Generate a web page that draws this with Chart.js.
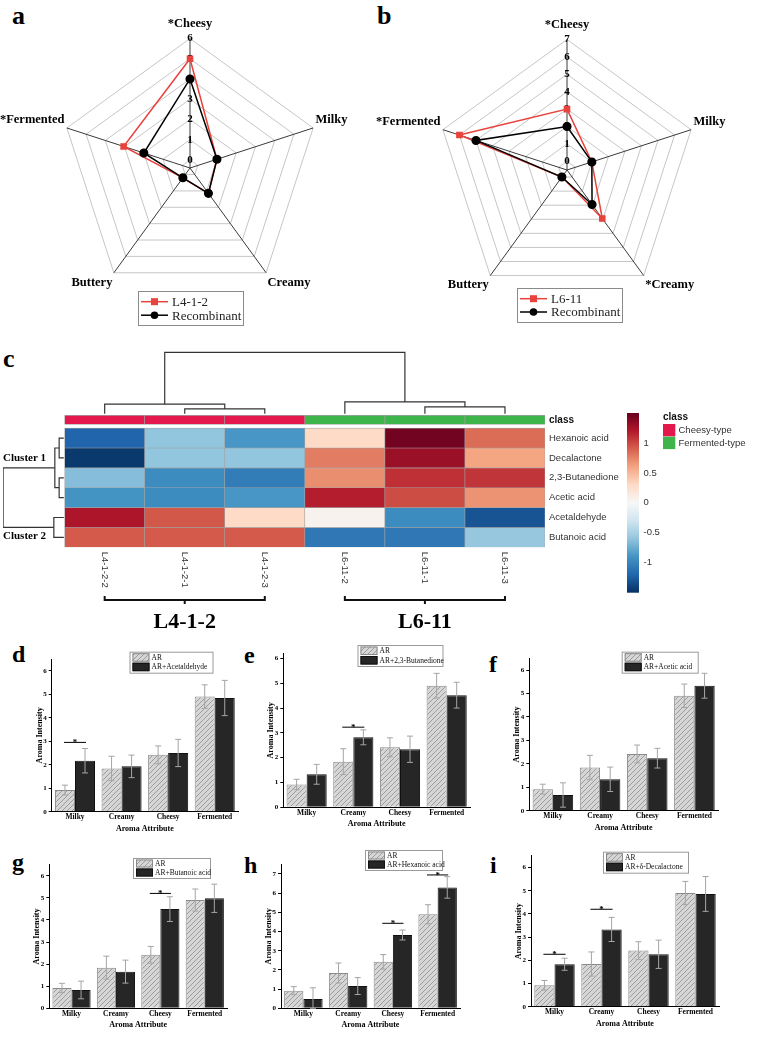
<!DOCTYPE html>
<html>
<head>
<meta charset="utf-8">
<script src="https://cdn.jsdelivr.net/npm/chart.js@4.4.1/dist/chart.umd.min.js"></script>
<style>
  body { margin: 0; background: #fff; }
  #page { position: relative; width: 757px; height: 1042px; overflow: hidden; background: #fff; }
  canvas { position: absolute; }
  .tag { position: absolute; font-family: "Liberation Serif", serif; font-weight: bold; line-height: 1; color: #000; }
</style>
</head>
<body>
<div id="page">
  <div class="tag" style="left:12px;top:3px;font-size:26px">a</div>
  <div class="tag" style="left:377px;top:3px;font-size:26px">b</div>
  <div class="tag" style="left:3px;top:346px;font-size:26px">c</div>
  <div class="tag" style="left:12px;top:642px;font-size:24px">d</div>
  <div class="tag" style="left:244px;top:643px;font-size:24px">e</div>
  <div class="tag" style="left:489px;top:652px;font-size:24px">f</div>
  <div class="tag" style="left:12px;top:850px;font-size:24px">g</div>
  <div class="tag" style="left:244px;top:853px;font-size:24px">h</div>
  <div class="tag" style="left:490px;top:853px;font-size:24px">i</div>
</div>
<script>
// ---------- radar data (a, b)
const radarAxesA = ['*Cheesy', 'Milky', 'Creamy', 'Buttery', '*Fermented'];
const l412Scores = [5, 1, 1.15, 0.2, 3.05];
const recombScoresA = [4, 1, 1.15, 0.2, 2];
const radarAxesB = ['*Cheesy', 'Milky', '*Creamy', 'Buttery', '*Fermented'];
const l611Scores = [3, 1, 2.95, 0, 6];
const recombScoresB = [2, 1, 1.95, 0, 5];

// ---------- heatmap data (c)
const heatCols = ['L4-1-2-2', 'L4-1-2-1', 'L4-1-2-3', 'L6-11-2', 'L6-11-1', 'L6-11-3'];
const heatClass = ['Cheesy-type', 'Cheesy-type', 'Cheesy-type', 'Fermented-type', 'Fermented-type', 'Fermented-type'];
const heatRows = ['Hexanoic acid', 'Decalactone', '2,3-Butanedione', 'Acetic acid', 'Acetaldehyde', 'Butanoic acid'];
const hexanoicAcid = [-1.2, -0.6, -0.88, 0.3, 1.45, 0.85];
const decalactone = [-1.45, -0.6, -0.6, 0.78, 1.3, 0.6];
const butanedione = [-0.65, -0.95, -1.05, 0.7, 1.1, 1.08];
const aceticAcid = [-0.9, -0.95, -0.88, 1.18, 0.98, 0.68];
const acetaldehyde = [1.22, 0.93, 0.3, 0.05, -0.95, -1.3];
const butanoicAcid = [0.92, 0.92, 0.92, -1.08, -1.08, -0.58];
const heatValues = [hexanoicAcid, decalactone, butanedione, aceticAcid, acetaldehyde, butanoicAcid];
// hclust style merges: negative = leaf, positive = earlier merge; third value = height
const colMerge = [[-2, -3, 0.5], [-5, -6, 0.7], [-1, 1, 0.97], [-4, 2, 1.2], [3, 4, 6.2]];
const rowMerge = [[-1, -2, 0.47], [-3, -4, 0.47], [1, 2, 0.9], [-5, -6, 1.0], [3, 4, 6.07]];
const colorTicks = [1, 0.5, 0, -0.5, -1];
const colorMin = -1.5, colorMax = 1.5;

// ---------- bar data (d - i)
const attributes = ['Milky', 'Creamy', 'Cheesy', 'Fermented'];
const arMean = [0.92, 1.84, 2.42, 4.9];
const arErr = [0.21, 0.52, 0.38, 0.5];
const acetaldehydeMean = [2.17, 1.93, 2.5, 4.84];
const acetaldehydeErr = [0.52, 0.48, 0.58, 0.75];
const acetaldehydeSig = [[0, 2.95]];
const butanedioneMean = [1.33, 2.82, 2.34, 4.52];
const butanedioneErr = [0.4, 0.3, 0.53, 0.52];
const butanedioneSig = [[1, 3.23]];
const aceticMean = [0.67, 1.34, 2.24, 5.33];
const aceticErr = [0.52, 0.52, 0.42, 0.53];
const aceticSig = [];
const butanoicMean = [0.83, 1.66, 4.49, 4.98];
const butanoicErr = [0.4, 0.52, 0.56, 0.64];
const butanoicSig = [[2, 5.2]];
const hexanoicMean = [0.49, 1.16, 3.82, 6.3];
const hexanoicErr = [0.58, 0.44, 0.26, 0.56];
const hexanoicSig = [[2, 4.43], [3, 6.95]];
const decalactoneMean = [1.83, 3.33, 2.26, 4.86];
const decalactoneErr = [0.26, 0.52, 0.61, 0.75];
const decalactoneSig = [[0, 2.26], [1, 4.2]];

Chart.defaults.font.family = '"Liberation Serif", "Times New Roman", serif';
Chart.defaults.color = '#000';
Chart.defaults.animation = false;
Chart.defaults.responsive = false;
Chart.defaults.events = [];
Chart.defaults.plugins.legend.display = false;
Chart.defaults.plugins.tooltip.enabled = false;

function makeCanvas(left, top, w, h) {
  const c = document.createElement('canvas');
  c.width = w; c.height = h;
  c.style.left = left + 'px'; c.style.top = top + 'px';
  document.getElementById('page').appendChild(c);
  return c;
}

// ---------- radar charts
const boxLegend = {
  id: 'boxLegend',
  afterDraw(chart, args, o) {
    const ctx = chart.ctx;
    ctx.save();
    ctx.strokeStyle = '#8a8a8a'; ctx.lineWidth = 1;
    ctx.strokeRect(o.x + 0.5, o.y + 0.5, o.w, o.h);
    chart.data.datasets.forEach((ds, i) => {
      const cy = o.y + o.row0 + i * o.gap;
      ctx.strokeStyle = ds.borderColor; ctx.lineWidth = 1.5;
      ctx.beginPath(); ctx.moveTo(o.x + 3, cy); ctx.lineTo(o.x + 30, cy); ctx.stroke();
      ctx.fillStyle = ds.borderColor;
      if (ds.pointStyle === 'rect') {
        ctx.fillRect(o.x + 13, cy - 3.5, 7, 7);
      } else {
        ctx.beginPath(); ctx.arc(o.x + 16.5, cy, 3.8, 0, 2 * Math.PI); ctx.fill();
      }
      ctx.font = '13px "Liberation Serif"';
      ctx.textBaseline = 'middle'; ctx.fillStyle = '#222';
      ctx.fillText(ds.label, o.x + 34, cy + 1);
    });
    ctx.restore();
  }
};

function radar(canvas, axes, sample, sampleName, recomb, min, max, pad, legend) {
  return new Chart(canvas, {
    type: 'radar',
    data: {
      labels: axes,
      datasets: [
        { label: sampleName, data: sample, borderColor: '#e8433d', backgroundColor: '#e8433d',
          pointBackgroundColor: '#e8433d', pointBorderColor: '#e8433d', pointStyle: 'rect',
          pointRadius: 3.6, borderWidth: 1.5, fill: false, order: 2 },
        { label: 'Recombinant', data: recomb, borderColor: '#000', backgroundColor: '#000',
          pointBackgroundColor: '#000', pointBorderColor: '#000', pointStyle: 'circle',
          pointRadius: 3.8, borderWidth: 1.5, fill: false, order: 1 }
      ]
    },
    options: {
      layout: { padding: pad },
      scales: {
        r: {
          min: min, max: max,
          afterBuildTicks: s => { s.ticks = s.ticks.filter(t => Number.isInteger(t.value)); },
          ticks: { stepSize: 1, includeBounds: false, showLabelBackdrop: false, backdropPadding: 0,
            color: '#000', font: { size: 11, weight: 'bold' } },
          grid: { color: '#c6c6c6', lineWidth: 1 },
          angleLines: { color: '#3a3a3a', lineWidth: 1 },
          pointLabels: { color: '#000', padding: c => (c.index === 0 ? 2 : -3),
            font: { size: 12.5, weight: 'bold' } }
        }
      },
      plugins: { boxLegend: legend }
    },
    plugins: [boxLegend]
  });
}

radar(makeCanvas(-25, 0, 430, 340), radarAxesA, l412Scores, 'L4-1-2', recombScoresA, -0.4, 6,
  { top: 8, bottom: 27, left: 0, right: 0 }, { x: 163, y: 291, w: 105, h: 34, row0: 10.7, gap: 13.5 });
radar(makeCanvas(352, 0, 430, 340), radarAxesB, l611Scores, 'L6-11', recombScoresB, -0.5, 7,
  { top: 9, bottom: 24, left: 0, right: 0 }, { x: 165, y: 288, w: 105, h: 34, row0: 10.7, gap: 13.3 });

// ---------- heatmap (c)
const rdbu = ['#053061', '#2166ac', '#4393c3', '#92c5de', '#d1e5f0', '#f7f7f7',
  '#fddbc7', '#f4a582', '#d6604d', '#b2182b', '#67001f'];
const classColor = { 'Cheesy-type': '#e4184d', 'Fermented-type': '#3db54a' };

function hexRgb(h) { return [1, 3, 5].map(i => parseInt(h.slice(i, i + 2), 16)); }
function heatColor(v) {
  const t = Math.max(0, Math.min(1, (v - colorMin) / (colorMax - colorMin))) * (rdbu.length - 1);
  const i = Math.min(Math.floor(t), rdbu.length - 2), f = t - i;
  const a = hexRgb(rdbu[i]), b = hexRgb(rdbu[i + 1]);
  return 'rgb(' + a.map((c, k) => Math.round(c + (b[k] - c) * f)).join(',') + ')';
}

// dendrogram U-shapes from merge table
function dendro(merge) {
  const nodes = [];
  const get = k => k < 0 ? { pos: -k - 0.5, h: 0 } : nodes[k - 1];
  return merge.map(m => {
    const a = get(m[0]), b = get(m[1]);
    nodes.push({ pos: (a.pos + b.pos) / 2, h: m[2] });
    return [[a.pos, a.h], [a.pos, m[2]], [b.pos, m[2]], [b.pos, b.h]];
  });
}
const colBase = -0.72, colK = 0.5, rowBase = -0.01, rowK = 0.125;
const dendroLine = pts => ({ type: 'line', data: pts, borderColor: '#333', borderWidth: 1.2,
  pointRadius: 0, tension: 0, fill: false });
const colLines = dendro(colMerge).map(u => dendroLine(u.map(([p, h]) => ({ x: p, y: colBase - h * colK }))));
const rowLines = dendro(rowMerge).map(u => dendroLine(u.map(([p, h]) => ({ x: rowBase - h * rowK, y: p }))));

const cellSets = heatRows.map((name, r) => ({
  type: 'bar', label: name,
  data: heatCols.map((c, j) => ({ x: j + 0.5, y: [r, r + 1] })),
  backgroundColor: heatValues[r].map(heatColor),
  borderColor: '#a3a3a3', borderWidth: 0.6, borderSkipped: false,
  grouped: false, barPercentage: 1, categoryPercentage: 1
}));
const classSet = {
  type: 'bar', label: 'class',
  data: heatCols.map((c, j) => ({ x: j + 0.5, y: [-0.64, -0.19] })),
  backgroundColor: heatClass.map(k => classColor[k]),
  borderColor: '#a3a3a3', borderWidth: 0.6, borderSkipped: false,
  grouped: false, barPercentage: 1, categoryPercentage: 1
};

const heatText = {
  id: 'heatText',
  afterDraw(chart) {
    const { ctx, scales: { x, y } } = chart;
    ctx.save();
    const sans = '"Liberation Sans", Arial, sans-serif';
    // column names
    ctx.font = '9.5px ' + sans; ctx.fillStyle = '#333';
    heatCols.forEach((c, j) => {
      ctx.save();
      ctx.translate(x.getPixelForValue(j + 0.5), y.getPixelForValue(6) + 4.5);
      ctx.rotate(Math.PI / 2);
      ctx.textAlign = 'left'; ctx.textBaseline = 'middle';
      ctx.fillText(c, 0, 0);
      ctx.restore();
    });
    // row names
    const xr = x.getPixelForValue(6) + 4;
    ctx.textAlign = 'left'; ctx.textBaseline = 'middle';
    heatRows.forEach((r, i) => ctx.fillText(r, xr, y.getPixelForValue(i + 0.5)));
    ctx.font = 'bold 10px ' + sans; ctx.fillStyle = '#111';
    ctx.fillText('class', xr, y.getPixelForValue(-0.415));

    // cluster labels
    ctx.font = 'bold 11px "Liberation Serif"'; ctx.fillStyle = '#000';
    ctx.fillText('Cluster 1', 3, y.getPixelForValue(1.52));
    ctx.fillText('Cluster 2', 3, y.getPixelForValue(5.43));

    // group brackets
    const groups = [['L4-1-2', 0, 2], ['L6-11', 3, 5]];
    const by = y.getPixelForValue(6) + 52.7;
    ctx.strokeStyle = '#111'; ctx.lineWidth = 2;
    groups.forEach(([name, a, b]) => {
      const x0 = x.getPixelForValue(a + 0.5), x1 = x.getPixelForValue(b + 0.5), xm = (x0 + x1) / 2;
      ctx.beginPath();
      ctx.moveTo(x0, by - 4); ctx.lineTo(x0, by); ctx.lineTo(x1, by); ctx.lineTo(x1, by - 4);
      ctx.moveTo(xm, by); ctx.lineTo(xm, by + 4);
      ctx.stroke();
      ctx.font = 'bold 22px "Liberation Serif"'; ctx.textAlign = 'center'; ctx.textBaseline = 'alphabetic';
      ctx.fillText(name, xm, by + 28);
    });

    // colour bar
    const cbx = 627, cbw = 12, cbTop = 83, cbBot = 262.7;
    const grad = ctx.createLinearGradient(0, cbBot, 0, cbTop);
    rdbu.forEach((c, i) => grad.addColorStop(i / (rdbu.length - 1), c));
    ctx.fillStyle = grad; ctx.fillRect(cbx, cbTop, cbw, cbBot - cbTop);
    ctx.font = '9.5px ' + sans; ctx.fillStyle = '#333'; ctx.textAlign = 'left'; ctx.textBaseline = 'middle';
    colorTicks.forEach(v => {
      const ty = cbBot - (v - colorMin) / (colorMax - colorMin) * (cbBot - cbTop);
      ctx.fillText(String(v), cbx + 16.5, ty);
    });

    // class legend
    ctx.font = 'bold 10px ' + sans; ctx.fillStyle = '#111';
    ctx.fillText('class', 663, 87);
    ['Cheesy-type', 'Fermented-type'].forEach((k, i) => {
      ctx.fillStyle = classColor[k]; ctx.fillRect(663, 94 + i * 12.7, 12.3, 12.4);
      ctx.font = '9.5px ' + sans; ctx.fillStyle = '#333';
      ctx.fillText(k, 678.5, 100.5 + i * 12.7);
    });
    ctx.restore();
  }
};

new Chart(makeCanvas(0, 330, 757, 330), {
  type: 'bar',
  data: { datasets: [...cellSets, classSet, ...colLines, ...rowLines] },
  options: {
    layout: { padding: { left: 3, right: 212, top: 20.7, bottom: 112.7 } },
    scales: {
      x: { type: 'linear', display: false, offset: false, min: -0.77, max: 6,
        afterBuildTicks: s => { s.ticks = [0, 1, 2, 3, 4, 5, 6].map(v => ({ value: v })); } },
      y: { type: 'linear', display: false, min: -3.9, max: 6, reverse: true }
    }
  },
  plugins: [heatText]
});

// ---------- grouped bar charts (d - i)
function hatchPattern() {
  const c = document.createElement('canvas'); c.width = 5; c.height = 5;
  const g = c.getContext('2d');
  g.fillStyle = '#d6d6d6'; g.fillRect(0, 0, 5, 5);
  g.strokeStyle = '#9c9c9c'; g.lineWidth = 1;
  g.beginPath();
  g.moveTo(0, 5); g.lineTo(5, 0);
  g.moveTo(-1, 1); g.lineTo(1, -1);
  g.moveTo(4, 6); g.lineTo(6, 4);
  g.stroke();
  return g.createPattern(c, 'repeat');
}
const hatch = hatchPattern();

const barExtras = {
  id: 'barExtras',
  afterDatasetsDraw(chart, args, o) {
    const { ctx, scales: { y } } = chart;
    ctx.save();
    chart.data.datasets.forEach((ds, di) => {
      chart.getDatasetMeta(di).data.forEach((bar, i) => {
        const yt = y.getPixelForValue(ds.data[i] + ds.err[i]);
        const yb = y.getPixelForValue(Math.max(0, ds.data[i] - ds.err[i]));
        ctx.strokeStyle = '#a5a5a5'; ctx.lineWidth = 1;
        ctx.beginPath();
        ctx.moveTo(bar.x, yb); ctx.lineTo(bar.x, yt);
        ctx.moveTo(bar.x - 3, yt); ctx.lineTo(bar.x + 3, yt);
        ctx.moveTo(bar.x - 3, yb); ctx.lineTo(bar.x + 3, yb);
        ctx.stroke();
      });
    });
    const m0 = chart.getDatasetMeta(0).data, m1 = chart.getDatasetMeta(1).data;
    ctx.strokeStyle = '#000'; ctx.fillStyle = '#000'; ctx.lineWidth = 1;
    ctx.font = 'bold 9px "Liberation Serif"'; ctx.textAlign = 'center'; ctx.textBaseline = 'alphabetic';
    o.sig.forEach(([i, v]) => {
      const ly = y.getPixelForValue(v);
      ctx.beginPath(); ctx.moveTo(m0[i].x - 1, ly); ctx.lineTo(m1[i].x + 1, ly); ctx.stroke();
      ctx.fillText('*', (m0[i].x + m1[i].x) / 2, ly + 3);
    });
  },
  afterDraw(chart, args, o) {
    const ctx = chart.ctx;
    const [lx, ly, lw, lh] = o.box;
    ctx.save();
    ctx.fillStyle = '#fff'; ctx.fillRect(lx, ly, lw, lh);
    ctx.strokeStyle = '#9a9a9a'; ctx.lineWidth = 1;
    ctx.strokeRect(lx + 0.5, ly + 0.5, lw, lh);
    chart.data.datasets.forEach((ds, i) => {
      const ry = ly + 1.5 + i * (lh - 2) / 2;
      const sh = (lh - 4) / 2;
      ctx.fillStyle = ds.backgroundColor; ctx.fillRect(lx + 3, ry, 17, sh);
      ctx.strokeStyle = ds.borderColor; ctx.strokeRect(lx + 3.5, ry + 0.5, 16, sh - 1);
      ctx.fillStyle = '#111'; ctx.font = '7.5px "Liberation Serif"';
      ctx.textAlign = 'left'; ctx.textBaseline = 'middle';
      ctx.fillText(ds.label, lx + 22, ry + sh / 2 + 0.5);
    });
    ctx.restore();
  }
};

function barPanel(p) {
  const left = Math.round(p.axisX - 17);
  const top = Math.round(Math.min(p.axisTop, p.legend[1]) - 4);
  const right = Math.round(p.plotRight + 8);
  const bottom = Math.round(p.axisY + 22);
  const cv = makeCanvas(left, top, right - left, bottom - top);
  new Chart(cv, {
    type: 'bar',
    data: {
      labels: attributes,
      datasets: [
        { label: 'AR', data: arMean, err: arErr, backgroundColor: hatch, borderColor: '#8a8a8a', borderWidth: 1,
          categoryPercentage: 0.86, barPercentage: 1 },
        { label: p.name, data: p.mean, err: p.err, backgroundColor: '#262626', borderColor: '#111', borderWidth: 1,
          categoryPercentage: 0.86, barPercentage: 1 }
      ]
    },
    options: {
      layout: { padding: { top: p.axisTop - top, right: right - p.plotRight, left: 0, bottom: 0 } },
      scales: {
        x: {
          grid: { display: false, drawTicks: false },
          border: { color: '#000', width: 1 },
          ticks: { padding: 1, font: { size: 7.5, weight: 'bold' } },
          title: { display: true, text: 'Aroma Attribute', padding: 0, font: { size: 8, weight: 'bold' } },
          afterFit: s => { s.height = bottom - p.axisY; }
        },
        y: {
          min: 0, max: p.max,
          afterBuildTicks: s => { s.ticks = s.ticks.filter(t => Number.isInteger(t.value)); },
          ticks: { stepSize: 1, includeBounds: false, padding: 2, font: { size: 7, weight: 'bold' } },
          grid: { drawOnChartArea: false, drawTicks: true, tickLength: 3, color: '#000' },
          border: { color: '#000', width: 1 },
          title: { display: true, text: 'Aroma Intensity', padding: 0, font: { size: 8, weight: 'bold' } },
          afterFit: s => { s.width = p.axisX - left; }
        }
      },
      plugins: { barExtras: { sig: p.sig, box: [p.legend[0] - left, p.legend[1] - top, p.legend[2], p.legend[3]] } }
    },
    plugins: [barExtras]
  });
}

[
  { name: 'AR+Acetaldehyde', mean: acetaldehydeMean, err: acetaldehydeErr, sig: acetaldehydeSig,
    max: 6.5, axisX: 51.7, plotRight: 238, axisTop: 659, axisY: 811.7, legend: [129.5, 651.7, 83, 21] },
  { name: 'AR+2,3-Butanedione', mean: butanedioneMean, err: butanedioneErr, sig: butanedioneSig,
    max: 6.2, axisX: 283.3, plotRight: 470, axisTop: 653.5, axisY: 807.3, legend: [357.5, 645, 85, 21] },
  { name: 'AR+Acetic acid', mean: aceticMean, err: aceticErr, sig: aceticSig,
    max: 6.5, axisX: 529.3, plotRight: 718, axisTop: 658.3, axisY: 810.7, legend: [621.7, 651.7, 76, 21] },
  { name: 'AR+Butanoic acid', mean: butanoicMean, err: butanoicErr, sig: butanoicSig,
    max: 6.5, axisX: 49.3, plotRight: 227, axisTop: 864.7, axisY: 1008.3, legend: [133, 858, 77, 20] },
  { name: 'AR+Hexanoic acid', mean: hexanoicMean, err: hexanoicErr, sig: hexanoicSig,
    max: 7.5, axisX: 281, plotRight: 460, axisTop: 864.4, axisY: 1008.3, legend: [365, 850, 77, 20] },
  { name: 'AR+δ-Decalactone', mean: decalactoneMean, err: decalactoneErr, sig: decalactoneSig,
    max: 6.5, axisX: 531, plotRight: 719, axisTop: 855.9, axisY: 1006.7, legend: [603, 851.7, 85, 21] }
].forEach(barPanel);
</script>
</body>
</html>
